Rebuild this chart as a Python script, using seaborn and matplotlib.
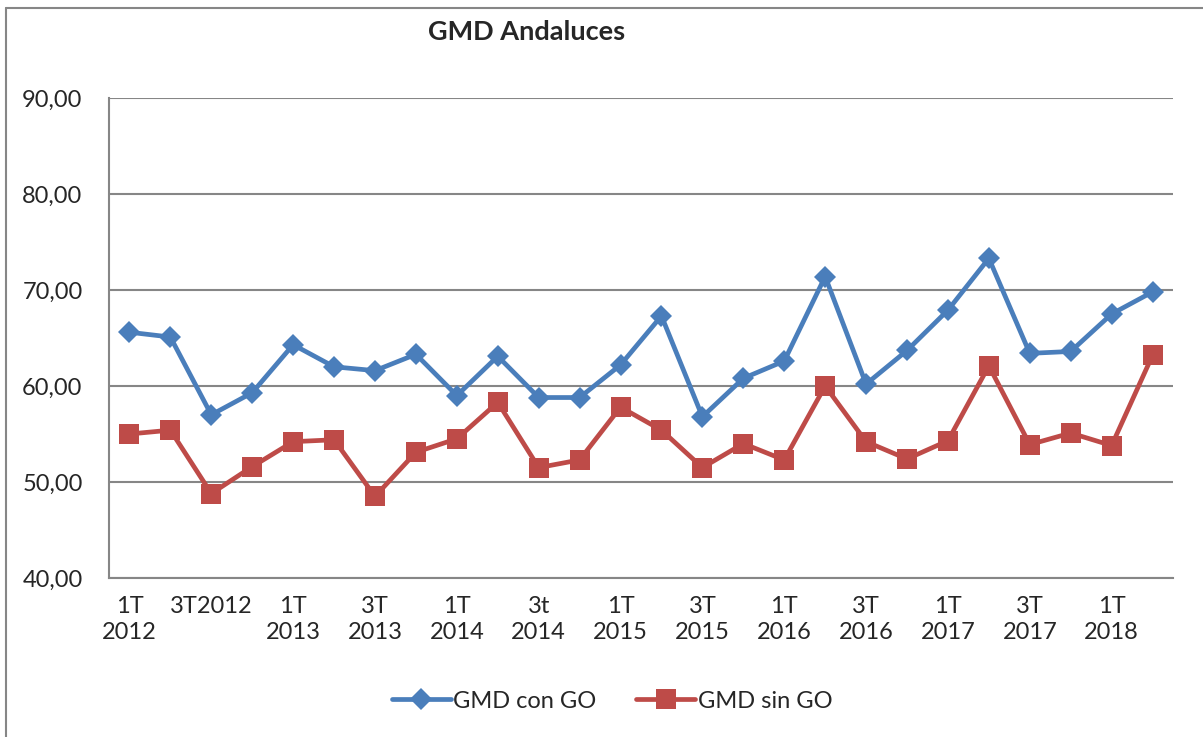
import pandas as pd
import seaborn as sns
import matplotlib.pyplot as plt
from matplotlib.lines import Line2D
from matplotlib.ticker import FixedLocator

quarters = ["1T\n2012", "2T 2012", "3T2012", "4T 2012",
            "1T\n2013", "2T 2013", "3T\n2013", "4T 2013",
            "1T\n2014", "2T 2014", "3t\n2014", "4T 2014",
            "1T\n2015", "2T 2015", "3T\n2015", "4T 2015",
            "1T\n2016", "2T 2016", "3T\n2016", "4T 2016",
            "1T\n2017", "2T 2017", "3T\n2017", "4T 2017",
            "1T\n2018", "2T 2018"]
gmd_con_go = [65.6, 65.1, 57.0, 59.3, 64.3, 62.0, 61.6, 63.3, 59.0, 63.1,
              58.8, 58.8, 62.2, 67.3, 56.8, 60.8, 62.6, 71.4, 60.2, 63.7,
              67.9, 73.3, 63.4, 63.6, 67.5, 69.8]
gmd_sin_go = [55.0, 55.4, 48.8, 51.6, 54.2, 54.4, 48.5, 53.1, 54.5, 58.3,
              51.5, 52.3, 57.8, 55.4, 51.5, 54.0, 52.3, 60.0, 54.2, 52.4,
              54.3, 62.1, 53.9, 55.1, 53.8, 63.2]
y_ticks = [40, 50, 60, 70, 80, 90]

BLUE = '#4A7EBB'
RED = '#BE4B48'
GRID = '#868686'

sns.set_style('white')
plt.rcParams['font.family'] = ['Lato', 'DejaVu Sans']

df = pd.DataFrame({'pos': range(len(quarters)), 'con': gmd_con_go, 'sin': gmd_sin_go})

fig = plt.figure(figsize=(12.03, 7.37), dpi=100)
ax = fig.add_axes([109 / 1203, 1 - 578 / 737, (1173 - 109) / 1203, (578 - 98) / 737])

sns.lineplot(data=df, x='pos', y='con', color=BLUE, lw=3.4, marker='D', markersize=11,
             markeredgewidth=0, ax=ax, zorder=3)
sns.lineplot(data=df, x='pos', y='sin', color=RED, lw=3.4, marker='s', markersize=14.5,
             markeredgewidth=0, ax=ax, zorder=3)

ax.set_xlim(-0.5, len(quarters) - 0.5)
ax.set_ylim(40, 90)
ax.set_yticks(y_ticks)
ax.set_yticklabels([f'{v:.2f}'.replace('.', ',') for v in y_ticks], fontsize=17)
ax.set_xticks(range(0, len(quarters), 2))
ax.set_xticklabels(quarters[::2], fontsize=17, linespacing=1.3)
ax.xaxis.set_minor_locator(FixedLocator([i - 0.5 for i in range(len(quarters) + 1)]))
ax.tick_params(axis='x', which='major', length=0, pad=13)
ax.tick_params(axis='x', which='minor', length=7, width=1.5, color=GRID, direction='out')
ax.tick_params(axis='y', length=7, width=1.5, color=GRID, direction='out', pad=12)
ax.set_xlabel('')
ax.set_ylabel('')

ax.grid(axis='y', color=GRID, lw=1.5)
ax.set_axisbelow(True)
for side in ['top', 'right']:
    ax.spines[side].set_visible(False)
for side in ['left', 'bottom']:
    ax.spines[side].set_color(GRID)
    ax.spines[side].set_linewidth(1.5)

fig.text(527 / 1203, 1 - 32 / 737, 'GMD Andaluces', ha='center', va='center',
         fontsize=19.5, fontweight='bold')

handles = [Line2D([], [], color=BLUE, lw=3.4, marker='D', markersize=11, markeredgewidth=0),
           Line2D([], [], color=RED, lw=3.4, marker='s', markersize=14.5, markeredgewidth=0)]
fig.legend(handles, ['GMD con GO', 'GMD sin GO'], loc='center', ncol=2,
           bbox_to_anchor=(612 / 1203, 1 - 701 / 737), frameon=False, fontsize=17,
           handlelength=2.5, handletextpad=0.1, columnspacing=1.7)

# chart border like the spreadsheet frame
fig.add_artist(Line2D([6 / 1203, 6 / 1203], [0, 1 - 8 / 737], color=GRID, lw=1.5,
                      transform=fig.transFigure))
fig.add_artist(Line2D([6 / 1203, 1], [1 - 8 / 737, 1 - 8 / 737], color=GRID, lw=1.5,
                      transform=fig.transFigure))

fig.savefig('out.png', dpi=100)
